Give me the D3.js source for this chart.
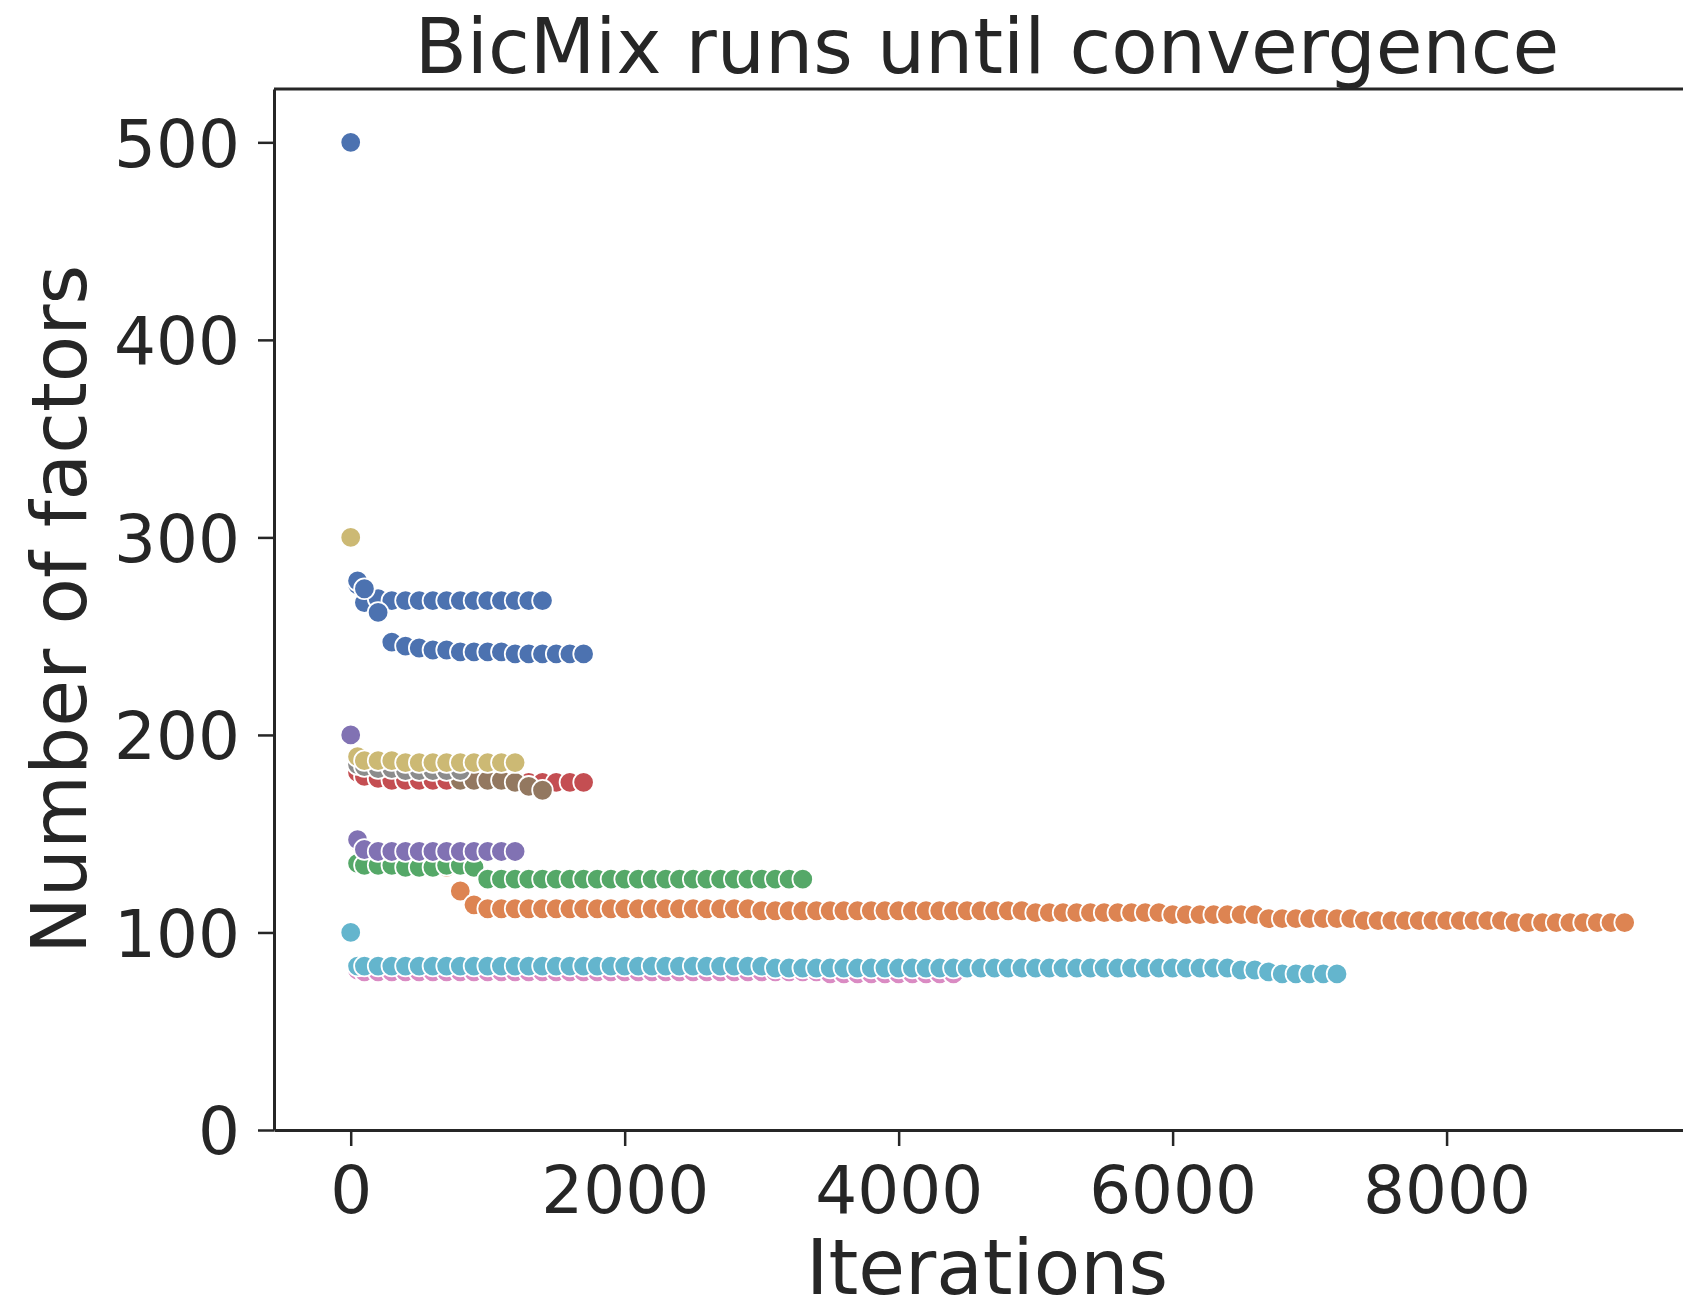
<!DOCTYPE html>
<html>
<head>
<meta charset="utf-8">
<script src="https://cdn.jsdelivr.net/npm/d3@7"></script>
<style>
  body { margin: 0; background: #ffffff; }
  svg { display: block; }
  text { font-family: "DejaVu Sans", sans-serif; fill: #262626; }
</style>
</head>
<body>
<svg id="chart" width="1683" height="1305"></svg>
<script>
// Iteration at which the number of factors was logged (shared by all runs)
const iterations = [
  0, 50, 100, 200, 300, 400, 500, 600, 700, 800, 900,
  1000, 1100, 1200, 1300, 1400, 1500, 1600, 1700, 1800, 1900,
  2000, 2100, 2200, 2300, 2400, 2500, 2600, 2700, 2800, 2900,
  3000, 3100, 3200, 3300, 3400, 3500, 3600, 3700, 3800, 3900,
  4000, 4100, 4200, 4300, 4400, 4500, 4600, 4700, 4800, 4900,
  5000, 5100, 5200, 5300, 5400, 5500, 5600, 5700, 5800, 5900,
  6000, 6100, 6200, 6300, 6400, 6500, 6600, 6700, 6800, 6900,
  7000, 7100, 7200, 7300, 7400, 7500, 7600, 7700, 7800, 7900,
  8000, 8100, 8200, 8300, 8400, 8500, 8600, 8700, 8800, 8900,
  9000, 9100, 9200, 9300
];

// Number of factors per logged iteration, one array per run
const factorsRun0 = [
  500, 276, 267, 269, 268, 268, 268, 268, 268, 268, 268,
  268, 268, 268, 268, 268
];
const factorsRun1 = [
  200, 146, 139, 138, 137, 137, 136, 136, 133, 121, 114,
  112, 112, 112, 112, 112, 112, 112, 112, 112, 112,
  112, 112, 112, 112, 112, 112, 112, 112, 112, 112,
  111, 111, 111, 111, 111, 111, 111, 111, 111, 111,
  111, 111, 111, 111, 111, 111, 111, 111, 111, 111,
  110, 110, 110, 110, 110, 110, 110, 110, 110, 110,
  109, 109, 109, 109, 109, 109, 109, 107, 107, 107,
  107, 107, 107, 107, 106, 106, 106, 106, 106, 106,
  106, 106, 106, 106, 106, 105, 105, 105, 105, 105,
  105, 105, 105, 105
];
const factorsRun2 = [
  200, 135, 134, 134, 134, 133, 133, 133, 134, 134, 133,
  127, 127, 127, 127, 127, 127, 127, 127, 127, 127,
  127, 127, 127, 127, 127, 127, 127, 127, 127, 127,
  127, 127, 127, 127
];
const factorsRun3 = [
  300, 181, 179, 178, 177, 177, 177, 177, 177, 177, 177,
  177, 177, 177, 176, 176, 176, 176, 176
];
const factorsRun4 = [
  200, 147, 142, 141, 141, 141, 141, 141, 141, 141, 141,
  141, 141, 141
];
const factorsRun5 = [
  300, 186, 185, 185, 185, 184, 184, 184, 184, 177, 177,
  177, 177, 176, 174, 172
];
const factorsRun6 = [
  100, 81, 80, 80, 80, 80, 80, 80, 80, 80, 80,
  80, 80, 80, 80, 80, 80, 80, 80, 80, 80,
  80, 80, 80, 80, 80, 80, 80, 80, 80, 80,
  80, 80, 80, 80, 80, 79, 79, 79, 79, 79,
  79, 79, 79, 79, 79
];
const factorsRun7 = [
  300, 185, 184, 183, 183, 182, 182, 182, 182, 182
];
const factorsRun8 = [
  300, 189, 187, 187, 187, 186, 186, 186, 186, 186, 186,
  186, 186, 186
];
const factorsRun9 = [
  100, 83, 83, 83, 83, 83, 83, 83, 83, 83, 83,
  83, 83, 83, 83, 83, 83, 83, 83, 83, 83,
  83, 83, 83, 83, 83, 83, 83, 83, 83, 83,
  83, 82, 82, 82, 82, 82, 82, 82, 82, 82,
  82, 82, 82, 82, 82, 82, 82, 82, 82, 82,
  82, 82, 82, 82, 82, 82, 82, 82, 82, 82,
  82, 82, 82, 82, 82, 81, 81, 80, 79, 79,
  79, 79, 79
];
const factorsRun10 = [
  500, 278, 274, 262, 247, 245, 244, 243, 243, 242, 242,
  242, 242, 241, 241, 241, 241, 241, 241
];

const runs = [
  factorsRun0, factorsRun1, factorsRun2, factorsRun3, factorsRun4, factorsRun5,
  factorsRun6, factorsRun7, factorsRun8, factorsRun9, factorsRun10
];

const xTicks = [0, 2000, 4000, 6000, 8000];
const yTicks = [0, 100, 200, 300, 400, 500];

const chartTitle = "BicMix runs until convergence";
const xLabel = "Iterations";
const yLabel = "Number of factors";

// seaborn "deep" palette, cycled over the runs
const palette = ["#4C72B0", "#DD8452", "#55A868", "#C44E52", "#8172B3",
                 "#937860", "#DA8BC3", "#8C8C8C", "#CCB974", "#64B5CD"];

// ---- layout ----
const plot = { left: 274, right: 1700, top: 89, bottom: 1130 };
const ink = "#262626";

const svg = d3.select("#chart");

const x = d3.scaleLinear().domain([-560, 9850]).range([plot.left, plot.right]);
const y = d3.scaleLinear().domain([0, 527]).range([plot.bottom, plot.top]);

// points, drawn run by run so later runs sit on top
const points = [];
runs.forEach((ks, r) => {
  ks.forEach((k, i) => points.push({ it: iterations[i], k: k, run: r }));
});

svg.append("g")
  .selectAll("circle")
  .data(points)
  .join("circle")
  .attr("cx", d => x(d.it))
  .attr("cy", d => y(d.k))
  .attr("r", 10.3)
  .attr("fill", d => palette[d.run % palette.length])
  .attr("stroke", "#ffffff")
  .attr("stroke-width", 1.8);

// top and right spines
svg.append("line")
  .attr("x1", plot.left).attr("x2", plot.right)
  .attr("y1", plot.top).attr("y2", plot.top)
  .attr("stroke", ink).attr("stroke-width", 3);
svg.append("line")
  .attr("x1", plot.right).attr("x2", plot.right)
  .attr("y1", plot.top).attr("y2", plot.bottom)
  .attr("stroke", ink).attr("stroke-width", 3);

// y axis
const yAxis = svg.append("g")
  .attr("transform", `translate(${plot.left},0)`)
  .call(d3.axisLeft(y).tickValues(yTicks).tickSize(16).tickSizeOuter(0).tickPadding(18));
yAxis.select(".domain").attr("stroke", ink).attr("stroke-width", 3);
yAxis.selectAll(".tick line").attr("stroke", ink).attr("stroke-width", 2.5);
yAxis.selectAll(".tick text")
  .attr("fill", ink)
  .attr("font-size", 66)
  .attr("dy", "0.36em");

// x axis
const xAxis = svg.append("g")
  .attr("transform", `translate(0,${plot.bottom})`)
  .call(d3.axisBottom(x).tickValues(xTicks).tickFormat(d3.format("d")).tickSize(16).tickSizeOuter(0));
xAxis.select(".domain").attr("stroke", ink).attr("stroke-width", 3);
xAxis.selectAll(".tick line").attr("stroke", ink).attr("stroke-width", 2.5);
xAxis.selectAll(".tick text")
  .attr("fill", ink)
  .attr("font-size", 66)
  .attr("y", 83)
  .attr("dy", null);

svg.selectAll(".tick text").attr("font-family", "DejaVu Sans, sans-serif");

// title and axis labels
svg.append("text")
  .attr("x", (plot.left + plot.right) / 2)
  .attr("y", 73)
  .attr("text-anchor", "middle")
  .attr("font-size", 76)
  .text(chartTitle);

svg.append("text")
  .attr("x", (plot.left + plot.right) / 2)
  .attr("y", 1294)
  .attr("text-anchor", "middle")
  .attr("font-size", 76)
  .text(xLabel);

svg.append("text")
  .attr("transform", `translate(86,${(plot.top + plot.bottom) / 2}) rotate(-90)`)
  .attr("text-anchor", "middle")
  .attr("font-size", 76)
  .text(yLabel);
</script>
</body>
</html>
